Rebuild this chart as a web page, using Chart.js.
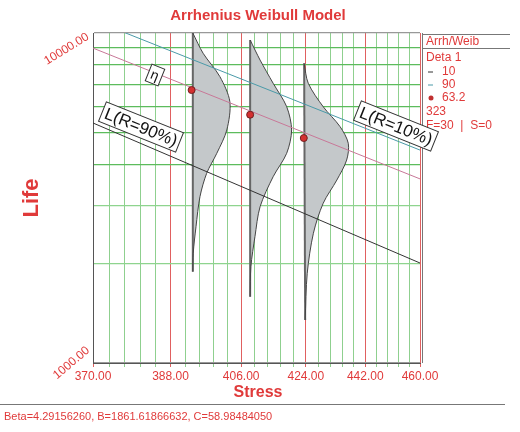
<!DOCTYPE html>
<html><head><meta charset="utf-8">
<script src="https://cdn.jsdelivr.net/npm/chart.js@4/dist/chart.umd.min.js"></script>
<style>html,body{margin:0;background:#fff}#wrap{width:520px;height:432px}</style>
</head><body><div id="wrap"><canvas id="c"></canvas></div>
<script>
// Données
const stressTicks = [370, 388, 406, 424, 442, 460];
const lifeTicks = [1000, 2000, 3000, 4000, 5000, 6000, 7000, 8000, 9000, 10000];
const pointStress = [393.2, 408.4, 423.4];
const pointLife = [6716, 5655, 4805];
const lineStress = [370, 460];
const etaLife = [9000, 3613];
const l10Life = [10950, 4418];
const l90Life = [5337, 2009];
// profils pdf : [stress, life]
const pdf1 = [[393.5,10000],[396.1,8680],[400.4,7374],[403.0,6192],[402.2,5082],[399.6,4320],[397.0,3757],[395.3,3191],[394.3,2588],[393.6,2150],[393.5,1891]];
const pdf2 = [[408.4,9524],[411.1,8279],[414.7,7041],[418.5,5979],[419.9,5082],[418.5,4320],[414.7,3669],[411.1,2976],[409.7,2414],[408.6,1958],[408.4,1588]];
const pdf3 = [[423.5,8091],[424.7,7041],[429.1,5979],[434.2,5200],[436.7,4632],[436.2,4121],[433.2,3584],[429.1,3048],[426.2,2472],[424.4,1870],[423.8,1350]];

const RED = '#e03a3a';
const FONT = '"Liberation Sans", Arial';
// axe des x en 1/T (Arrhenius)
const inv = s => -1e6 / s;
const pt = (s, l) => ({ x: inv(s), y: l });
const isMajor = s => stressTicks.some(t => Math.abs(t - s) < 0.05);

const minorStress = [];
for (let s = 370; s <= 460.01; s += 3.6) minorStress.push(Math.round(s * 10) / 10);

function pdfSet(p) {
    return { data: p.map(a => pt(a[0], a[1])), showLine: true, fill: false,
        borderColor: '#444', borderWidth: 1, pointRadius: 0, tension: 0.3, order: 3 };
}
function lineSet(life, color) {
    return { data: lineStress.map((s, i) => pt(s, life[i])), showLine: true, borderColor: color,
        borderWidth: 1, pointRadius: 0, fill: false, order: 2 };
}

// remplissage des pdf entre la courbe et la ligne de base
const pdfFillPlugin = {
    id: 'pdfFill',
    beforeDatasetDraw(chart, args) {
        if (args.index > 2) return;
        const pts = chart.getDatasetMeta(args.index).data;
        const ctx = chart.ctx;
        ctx.save();
        ctx.beginPath();
        ctx.moveTo(pts[0].x, pts[0].y);
        for (let i = 1; i < pts.length; i++) {
            const p0 = pts[i - 1], p1 = pts[i];
            ctx.bezierCurveTo(p0.cp2x, p0.cp2y, p1.cp1x, p1.cp1y, p1.x, p1.y);
        }
        ctx.closePath();
        ctx.fillStyle = '#c4c8ca';
        ctx.fill();
        ctx.strokeStyle = '#666'; ctx.lineWidth = 2;
        ctx.beginPath(); ctx.moveTo(pts[0].x, pts[0].y); ctx.lineTo(pts[pts.length - 1].x, pts[pts.length - 1].y); ctx.stroke();
        ctx.restore();
    }
};

const decoPlugin = {
    id: 'deco',
    afterDraw(chart) {
        const ctx = chart.ctx, xs = chart.scales.x, ys = chart.scales.y;
        ctx.save();
        ctx.fillStyle = RED; ctx.textAlign = 'center'; ctx.textBaseline = 'middle';
        ctx.font = 'bold 15px ' + FONT;
        ctx.fillText('Arrhenius Weibull Model', 258, 16);
        ctx.font = 'bold 16px ' + FONT;
        ctx.fillText('Stress', 258, 393);
        ctx.save(); ctx.translate(32, 198); ctx.rotate(-Math.PI / 2);
        ctx.font = 'bold 22px ' + FONT; ctx.fillText('Life', 0, 0); ctx.restore();
        // étiquettes y inclinées
        ctx.font = '12px ' + FONT; ctx.textAlign = 'right';
        ctx.save(); ctx.translate(88, 36); ctx.rotate(-0.55); ctx.fillText('10000.00', 0, 0); ctx.restore();
        ctx.save(); ctx.translate(88, 349); ctx.rotate(-0.7); ctx.fillText('1000.00', 0, 0); ctx.restore();
        // pied
        ctx.strokeStyle = '#777'; ctx.lineWidth = 1;
        ctx.beginPath(); ctx.moveTo(0, 404.5); ctx.lineTo(505, 404.5); ctx.stroke();
        ctx.textAlign = 'left'; ctx.font = '11px ' + FONT;
        ctx.fillText('Beta=4.29156260, B=1861.61866632, C=58.98484050', 4, 417);
        // légende
        ctx.beginPath(); ctx.moveTo(422.5, 33); ctx.lineTo(422.5, 363);
        ctx.moveTo(422, 34.5); ctx.lineTo(510, 34.5); ctx.moveTo(422, 48.5); ctx.lineTo(510, 48.5); ctx.stroke();
        ctx.font = '12px ' + FONT; ctx.fillStyle = RED;
        ctx.fillText('Arrh/Weib', 426, 42);
        ctx.fillText('Deta 1', 426, 58);
        ctx.fillText('10', 442, 72); ctx.fillText('90', 442, 85); ctx.fillText('63.2', 442, 98);
        ctx.fillText('323', 426, 112); ctx.fillText('F=30  |  S=0', 426, 126);
        ctx.strokeStyle = '#333'; ctx.beginPath(); ctx.moveTo(428, 72); ctx.lineTo(433, 72); ctx.stroke();
        ctx.strokeStyle = '#4a9aa8'; ctx.beginPath(); ctx.moveTo(428, 85); ctx.lineTo(433, 85); ctx.stroke();
        ctx.fillStyle = '#c03030'; ctx.beginPath(); ctx.arc(431, 98, 2.5, 0, 7); ctx.fill();
        // étiquettes des droites
        const ang = Math.atan2(ys.getPixelForValue(etaLife[1]) - ys.getPixelForValue(etaLife[0]),
            xs.getPixelForValue(inv(460)) - xs.getPixelForValue(inv(370)));
        const box = (txt, x, y, size) => {
            ctx.save(); ctx.translate(x, y); ctx.rotate(ang);
            ctx.font = size + 'px ' + FONT;
            const w = ctx.measureText(txt).width + 6, h = size + 4;
            ctx.fillStyle = '#fff'; ctx.fillRect(-w / 2, -h / 2, w, h);
            ctx.strokeStyle = '#333'; ctx.strokeRect(-w / 2, -h / 2, w, h);
            ctx.fillStyle = '#111'; ctx.textAlign = 'center'; ctx.textBaseline = 'middle';
            ctx.fillText(txt, 0, 1); ctx.restore();
        };
        box('η', 155, 75, 14);
        box('L(R=90%)', 141, 127, 17);
        box('L(R=10%)', 396, 126, 17);
        ctx.restore();
    }
};

new Chart(document.getElementById('c'), {
    type: 'scatter',
    data: {
        datasets: [
            pdfSet(pdf1), pdfSet(pdf2), pdfSet(pdf3),
            lineSet(etaLife, '#c87898'), lineSet(l10Life, '#4a9aa8'), lineSet(l90Life, '#333'),
            { data: pointStress.map((s, i) => pt(s, pointLife[i])), pointRadius: 3.5,
              backgroundColor: '#d43030', borderColor: '#702020', borderWidth: 1, order: 1 }
        ]
    },
    options: {
        responsive: true, maintainAspectRatio: false, animation: false,
        layout: { padding: { left: 93, top: 33, right: 100, bottom: 0 } },
        plugins: { legend: { display: false }, tooltip: { enabled: false } },
        scales: {
            x: {
                type: 'linear', min: inv(370), max: inv(460),
                afterBuildTicks: s => { s.ticks = minorStress.map(v => ({ value: inv(v) })); },
                afterFit: s => { s.height = 69; },
                ticks: {
                    color: RED, font: { size: 12, family: FONT }, maxRotation: 0,
                    autoSkip: false, padding: 2,
                    callback: v => { const s = -1e6 / v; return isMajor(s) ? stressTicks.find(t => Math.abs(t - s) < 0.05).toFixed(2) : ''; }
                },
                grid: {
                    tickLength: 4,
                    color: minorStress.map(s => isMajor(s) ? '#e06060' : '#8fd08f')
                },
                border: { color: '#555' }
            },
            y: {
                type: 'logarithmic', min: 1000, max: 10000,
                afterBuildTicks: s => { s.ticks = lifeTicks.map(v => ({ value: v })); },
                afterFit: s => { s.width = 0; },
                ticks: { display: false },
                grid: { color: lifeTicks.map(v => (v === 1000 || v === 10000) ? '#999' : (v < 4000 ? '#8ed48e' : '#5cbc5c')), drawTicks: false, lineWidth: 1.2 },
                border: { color: '#555' }
            }
        }
    },
    plugins: [pdfFillPlugin, decoPlugin]
});
</script></body></html>
